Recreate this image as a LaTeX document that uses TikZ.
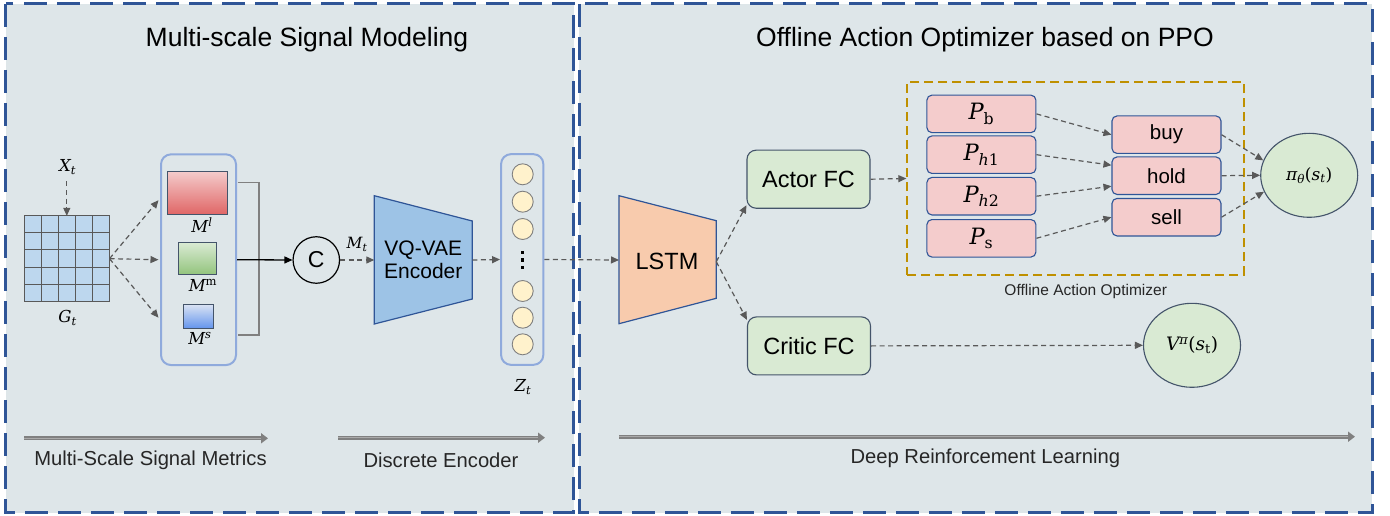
\RequirePackage{fix-cm}
\documentclass[tikz,border=0pt]{standalone}
\usepackage[no-math]{fontspec}
\setmainfont{Liberation Sans}
\newfontfamily\mfam{DejaVu Serif}
\newcommand\mi[1]{{\mfam\itshape #1}}
\newcommand\mr[1]{{\mfam #1}}
\newcommand\sbs[1]{\textsubscript{#1}}
\newcommand\sps[1]{\textsuperscript{#1}}
\usetikzlibrary{arrows.meta,shapes.geometric,calc}
\definecolor{panelbg}{RGB}{222,230,233}
\definecolor{panelblue}{RGB}{47,85,151}
\definecolor{dgray}{RGB}{89,89,89}
\definecolor{boxblue}{RGB}{47,85,151}
\definecolor{slate}{RGB}{68,84,106}
\definecolor{pinkfill}{RGB}{244,204,204}
\definecolor{greenfill}{RGB}{217,234,211}
\definecolor{contblue}{RGB}{143,170,220}
\definecolor{gridfill}{RGB}{189,215,238}
\definecolor{yfill}{RGB}{255,242,204}
\definecolor{vqfill}{RGB}{157,195,230}
\definecolor{lstmfill}{RGB}{248,203,173}
\definecolor{gold}{RGB}{191,144,0}
\definecolor{barout}{RGB}{128,128,128}
\definecolor{barin}{RGB}{170,170,170}
\definecolor{labgray}{RGB}{38,38,38}
\tikzset{
  dar/.style={draw=dgray, line width=1.2pt, dash pattern=on 5pt off 3.5pt, -{Triangle[length=8pt,width=7pt]}},
  sar/.style={draw=black, line width=1.3pt, -{Triangle[length=8pt,width=7pt]}},
  pbox/.style={draw=boxblue, fill=pinkfill, rounded corners=5pt, line width=1.1pt, minimum width=109pt, minimum height=37.5pt, inner sep=0pt, font=\fontsize{22.5pt}{24pt}\selectfont},
  abox/.style={pbox, font=\fontsize{20.5pt}{22pt}\selectfont},
  gbox/.style={draw=slate, fill=greenfill, rounded corners=9pt, line width=1.1pt, minimum width=123pt, minimum height=58pt, inner sep=0pt, font=\fontsize{23.5pt}{26pt}\selectfont},
  gell/.style={ellipse, draw=slate, fill=greenfill, line width=1.1pt, minimum width=97pt, minimum height=84pt, inner sep=0pt},
  cont/.style={draw=contblue, line width=2pt, rounded corners=10pt, minimum width=75pt, minimum height=210.7pt, inner sep=0pt},
  panel/.style={fill=panelbg, draw=panelblue, line width=3pt, dash pattern=on 23pt off 10pt},
  title/.style={font=\fontsize{26.5pt}{30pt}\selectfont},
  blab/.style={text=labgray, font=\fontsize{20.2pt}{23pt}\selectfont},
  mlab/.style={font=\fontsize{16.5pt}{18pt}\selectfont, inner sep=0pt},
  zc/.style={circle, draw=barout, fill=yfill, line width=0.9pt, minimum size=21pt, inner sep=0pt},
  mrect/.style={draw=slate, line width=1pt, inner sep=0pt},
  barline/.style={draw=barout, line width=4pt, -{Triangle[length=7pt,width=10pt]}},
  barcore/.style={draw=barin, line width=1.4pt, shorten >=7pt},
}
\begin{document}
\begin{tikzpicture}[x=1pt,y=-1pt]
\useasboundingbox (0,0) rectangle (1390,516);
% panels
\path[panel] (5.5,4) rectangle (573.5,512.5);
\path[panel] (579.3,4) rectangle (1372.3,512.5);
\node[title] (t1) at (307,40) {Multi-scale Signal Modeling};
\node[title] (t2) at (985,40) {Offline Action Optimizer based on PPO};

% grid
\node[minimum width=85pt, minimum height=85.3pt, inner sep=0pt, fill=gridfill] (grid) at (66.8,258.7) {};
\foreach \i in {0,...,5}{
  \draw[dgray, line width=1pt] ($(grid.north west)+(\i*17,0)$) -- ($(grid.south west)+(\i*17,0)$);
  \draw[dgray, line width=1pt] ($(grid.north west)+(0,\i*17.06)$) -- ($(grid.north east)+(0,\i*17.06)$);
}
\node[mlab] (xt) at (67.5,167) {\mi{X}\sbs{\mi{t}}};
\node[mlab] (gt) at (67.5,318) {\mi{G}\sbs{\mi{t}}};
\coordinate (xts) at (66.8,181.5);
\draw[dar] (xts) -- (grid.north);

% M container
\node[cont] (mcont) at (198.5,259.7) {};
\node[mrect, minimum width=60.4pt, minimum height=43.3pt, top color=pinkfill, bottom color={rgb,255:red,224;green,102;blue,102}] (ml) at (197.5,192.7) {};
\node[mrect, minimum width=38pt, minimum height=31.6pt, top color={rgb,255:red,217;green,234;blue,211}, bottom color={rgb,255:red,147;green,196;blue,125}] (mm) at (197.7,258.5) {};
\node[mrect, minimum width=30.4pt, minimum height=24pt, top color={rgb,255:red,218;green,227;blue,243}, bottom color={rgb,255:red,100;green,149;blue,237}] (ms) at (198.5,316.3) {};
\node[mlab] (mll) at (202,225) {\mi{M}\sps{\mi{l}}};
\node[mlab] (mml) at (203,285.5) {\mi{M}\sps{\mr{m}}};
\node[mlab] (msl) at (200,338.5) {\mi{M}\sps{\mi{s}}};
\draw[dar] (grid.east) -- ($(mcont.west)+(-1.5,-59.5)$);
\draw[dar] (grid.east) -- ($(mcont.west)+(-1.5,0)$);
\draw[dar] (grid.east) -- ($(mcont.west)+(-1.5,58)$);
% bracket
\coordinate (brt) at (237.7,182.7);
\coordinate (brb) at (237.7,335);
\draw[barout, line width=1.2pt] (brt) -- ++(21.3,0) |- (brb);

% concat
\node[circle, draw=black, line width=1.2pt, minimum size=46.5pt, inner sep=0pt, font=\fontsize{23pt}{25pt}\selectfont] (cc) at (316.3,260) {C};
\draw[sar] (mcont.east) -- (cc.west);

% VQ-VAE trapezoid
\coordinate (vqL) at (374.3,260);
\coordinate (vqR) at (472.3,260);
\draw[fill=vqfill, draw=boxblue, line width=1.2pt] (374.3,195.7) -- (472.3,221) -- (472.3,299) -- (374.3,324) -- cycle;
\node[align=center, font=\fontsize{21pt}{23pt}\selectfont] (vq) at (423.3,260) {VQ-VAE\\Encoder};
\draw[dar] (cc.east) -- (vqL);
\node[mlab, font=\fontsize{15.5pt}{17pt}\selectfont] (mtl) at (357,244.5) {\mi{M}\sbs{\mi{t}}};

% z container
\node[cont, minimum width=42.3pt] (zcont) at (522.2,259.5) {};
\foreach \y/\n in {174.3/z1,201.7/z2,229/z3,291/z4,317.7/z5,344.3/z6}{
  \node[zc] (\n) at (522.7,\y) {};
}
\foreach \y in {252.7,260,267.3}{
  \fill[black] (522.7,\y) ++(-1.7,-1.7) rectangle ++(3.4,3.4);
}
\node[mlab] (zt) at (523,387) {\mi{Z}\sbs{\mi{t}}};
\draw[dar] (vqR) -- (zcont.west);

% LSTM trapezoid
\coordinate (lstmL) at (619,260);
\coordinate (lstmR) at (716.3,261.7);
\draw[fill=lstmfill, draw=boxblue, line width=1.2pt] (619,195.7) -- (716.3,220.7) -- (716.3,298.3) -- (619,323.7) -- cycle;
\node[font=\fontsize{23.5pt}{26pt}\selectfont] (lstm) at (667,261.7) {LSTM};
\draw[dar] (zcont.east) -- (lstmL);

% actor / critic
\node[gbox] (actor) at (808.5,179.2) {Actor FC};
\node[gbox] (critic) at (809,345.9) {Critic FC};
\draw[dar] (lstmR) -- ($(actor.west)+(0,26)$);
\draw[dar] (lstmR) -- ($(critic.west)+(0,-26)$);

% offline action optimizer
\node[draw=gold, line width=2pt, dash pattern=on 9pt off 5pt, minimum width=336.7pt, minimum height=192.4pt, inner sep=0pt] (oao) at (1075.7,178.5) {};
\node[text=labgray, font=\fontsize{15.5pt}{18pt}\selectfont] (oaol) at (1085.7,291.7) {Offline Action Optimizer};
\draw[dar] (actor.east) -- (oao.west);

\node[pbox] (pb) at (981.4,113.9) {\mi{P}\sbs{\mr{b}}};
\node[pbox] (ph1) at (981.4,154.7) {\mi{P}\sbs{\mi{h}\mr{1}}};
\node[pbox] (ph2) at (981.4,196.2) {\mi{P}\sbs{\mi{h}\mr{2}}};
\node[pbox] (ps) at (981.4,238.3) {\mi{P}\sbs{\mr{s}}};
\node[abox] (buy) at (1166.5,134.7) {buy};
\node[abox] (hold) at (1166.5,175.7) {hold};
\node[abox] (sell) at (1166.5,217.2) {sell};
\draw[dar] (pb.east) -- (buy.west);
\draw[dar] (ph1.east) -- ($(hold.west)+(0,-10.5)$);
\draw[dar] (ph2.east) -- ($(hold.west)+(0,10.5)$);
\draw[dar] (ps.east) -- (sell.west);

\node[gell, font=\fontsize{17pt}{19pt}\selectfont] (pi) at (1309.2,175.3) {\mi{π}\sbs{\mi{θ}}\mr{(}\mi{s}\sbs{\mi{t}}\mr{)}};
\draw[dar] (buy.east) -- (pi.162);
\draw[dar] (hold.east) -- (pi.west);
\draw[dar] (sell.east) -- (pi.200);

\node[gell, font=\fontsize{18.5pt}{20pt}\selectfont] (vpi) at (1192,345.3) {\mi{V}\sps{\mi{π}}\mr{(}\mi{s}\sbs{\mr{t}}\mr{)}};
\draw[dar] (critic.east) -- (vpi.west);

% bottom arrows
\coordinate (b1s) at (24,438.3); \coordinate (b1e) at (268,438.3);
\coordinate (b2s) at (338,437.7); \coordinate (b2e) at (545,437.7);
\coordinate (b3s) at (619,436.7); \coordinate (b3e) at (1355,436.7);
\foreach \s/\e in {b1s/b1e,b2s/b2e,b3s/b3e}{
  \draw[barline] (\s) -- (\e);
  \draw[barcore] (\s) -- (\e);
}
\node[blab] (l1) at (150.5,460) {Multi-Scale Signal Metrics};
\node[blab] (l2) at (441,460) {Discrete Encoder};
\node[blab] (l3) at (985.3,458.3) {Deep Reinforcement Learning};
\end{tikzpicture}
\end{document}
